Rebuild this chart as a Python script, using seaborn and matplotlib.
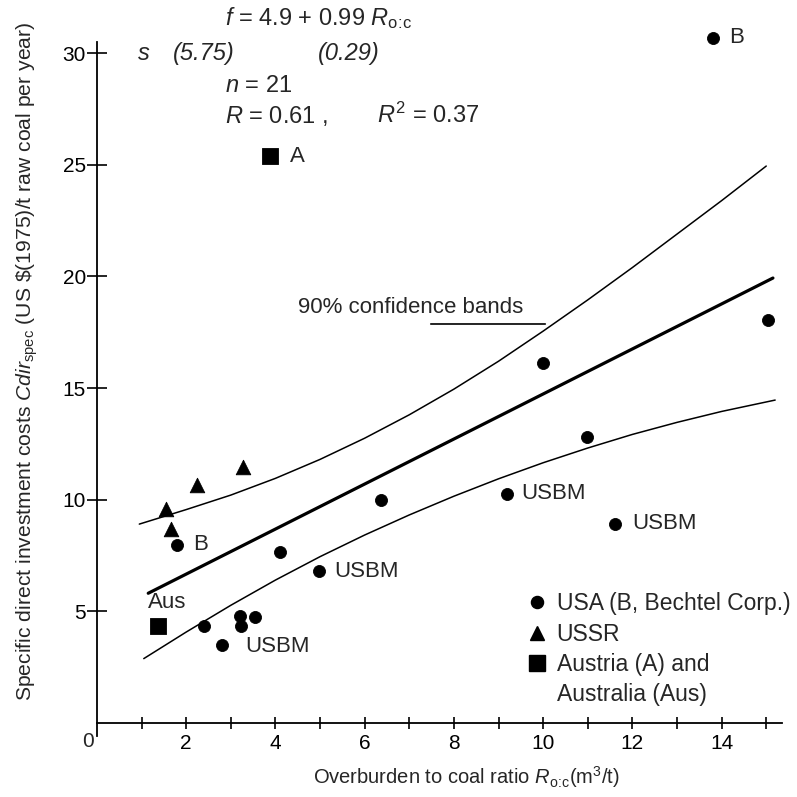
import numpy as np
import pandas as pd
import matplotlib
matplotlib.use('Agg')
import matplotlib.pyplot as plt
import seaborn as sns
from matplotlib import font_manager
from matplotlib.lines import Line2D
from matplotlib.ticker import FixedLocator

# values
usa_x = [13.81, 15.04, 10.0, 10.99, 9.19, 11.61, 6.37, 4.10, 4.98, 1.79, 2.40, 3.21, 3.23, 3.54, 2.80]
usa_y = [30.7, 18.05, 16.1, 12.8, 10.25, 8.9, 9.99, 7.66, 6.8, 7.97, 4.34, 4.79, 4.34, 4.75, 3.49]
ussr_x = [1.55, 1.66, 2.24, 3.27]
ussr_y = [9.58, 8.69, 10.66, 11.46]
aut_x = [3.88, 1.37]
aut_y = [25.4, 4.34]

# regression line f = 4.9 + 0.99 R (as drawn)
fit_x = [1.15, 15.15]
fit_y = [5.8, 19.93]

# 90% confidence bands
upper_x = [0.95, 2, 3, 4, 5, 6, 7, 8, 9, 10, 11, 12, 13, 14, 15]
upper_y = [8.9, 9.55, 10.2, 10.95, 11.8, 12.75, 13.8, 14.95, 16.2, 17.55, 18.95, 20.4, 21.9, 23.4, 24.95]
lower_x = [1.05, 2, 3, 4, 5, 6, 7, 8, 9, 10, 11, 12, 13, 14, 15.2]
lower_y = [2.87, 4.06, 5.26, 6.39, 7.44, 8.41, 9.31, 10.15, 10.93, 11.65, 12.31, 12.92, 13.46, 13.95, 14.46]

# point labels (text, x, y)
point_labels = [
    ("B", 14.17, 30.72),
    ("A", 4.33, 25.39),
    ("B", 2.15, 7.97),
    ("Aus", 1.14, 5.37),
    ("USBM", 3.32, 3.40),
    ("USBM", 5.31, 6.76),
    ("USBM", 9.51, 10.26),
    ("USBM", 12.0, 8.91),
]

legend_labels = ["USA (B, Bechtel Corp.)", "USSR", "Austria (A) and", "Australia (Aus)"]


def has_font(name):
    try:
        font_manager.findfont(name, fallback_to_default=False)
        return True
    except ValueError:
        return False


sns.set_style("ticks")
plt.rcParams['font.family'] = ['Liberation Sans', 'DejaVu Sans']
plt.rcParams['mathtext.fontset'] = 'custom'
plt.rcParams['mathtext.rm'] = 'Liberation Sans'
plt.rcParams['mathtext.it'] = 'Liberation Sans:italic'
plt.rcParams['mathtext.bf'] = 'Liberation Sans:bold'

narrow = 'Liberation Sans Narrow' if has_font('Liberation Sans Narrow') else 'Liberation Sans'
roc = r"R_{\mathrm{o}\!:\!\mathrm{c}}"

fig = plt.figure(figsize=(7.97, 7.97), dpi=100)
ax = fig.add_axes([0.1104, 0.0765, 0.8706, 0.8705])

df = pd.concat([
    pd.DataFrame({'x': usa_x, 'y': usa_y, 'group': 'USA'}),
    pd.DataFrame({'x': ussr_x, 'y': ussr_y, 'group': 'USSR'}),
    pd.DataFrame({'x': aut_x, 'y': aut_y, 'group': 'AUS'}),
])

styles = {'USA': ('o', 75), 'USSR': ('^', 110), 'AUS': ('s', 135)}
for g, (m, s) in styles.items():
    sub = df[df['group'] == g]
    sns.scatterplot(data=sub, x='x', y='y', marker=m, s=s, color='black',
                    edgecolor='black', linewidth=0.6, ax=ax, legend=False,
                    zorder=3, clip_on=False)

sns.lineplot(x=fit_x, y=fit_y, color='black', lw=2.3, ax=ax, estimator=None, sort=False)
sns.lineplot(x=upper_x, y=upper_y, color='black', lw=1.1, ax=ax, estimator=None, sort=False)
sns.lineplot(x=lower_x, y=lower_y, color='black', lw=1.1, ax=ax, estimator=None, sort=False)

# axes
ax.set_xlim(-0.2, 15.35)
ax.set_ylim(-0.6, 30.5)
ax.spines['left'].set_position(('data', 0))
ax.spines['bottom'].set_position(('data', 0))
ax.spines['bottom'].set_bounds(0, 15.35)
ax.spines['right'].set_visible(False)
ax.spines['top'].set_visible(False)
for sp in ('left', 'bottom'):
    ax.spines[sp].set_linewidth(1.3)
    ax.spines[sp].set_color('black')

ax.yaxis.set_major_locator(FixedLocator([5, 10, 15, 20, 25, 30]))
ax.xaxis.set_major_locator(FixedLocator([2, 4, 6, 8, 10, 12, 14]))
ax.xaxis.set_minor_locator(FixedLocator([1, 3, 5, 7, 9, 11, 13, 15]))
ax.tick_params(axis='y', direction='inout', length=14, width=1.2, pad=1,
               labelsize=15, colors='black')
ax.tick_params(axis='x', which='both', direction='inout', length=8, width=1.2, pad=4,
               colors='black', labelsize=15)
for lab in ax.get_xticklabels():
    lab.set_fontfamily(narrow)
ax.text(-0.2, -0.85, "0", fontsize=15, ha='center', va='center')

ax.set_xlabel(r"Overburden to coal ratio $" + roc + r"$(m$^{3}$/t)",
              fontfamily=narrow, fontsize=14.5)
ax.xaxis.set_label_coords(0.545, -0.04)
ax.set_ylabel(r"Specific direct investment costs $Cdir_{\mathrm{spec}}$ (US \$(1975)/t raw coal per year)",
              fontfamily=narrow, fontsize=15.2)
ax.yaxis.set_label_coords(-0.069, 0.54)

# point labels
for txt, tx, ty in point_labels:
    ax.text(tx, ty, txt, fontsize=16, ha='left', va='center')

# regression statistics
ax.text(2.87, 31.26, r"$f$ = 4.9 + 0.99 $" + roc + "$", fontsize=17, clip_on=False)
ax.text(0.90, 29.7, r"$s$", fontsize=17, clip_on=False)
ax.text(1.70, 29.7, r"(5.75)", fontsize=17, style='italic', clip_on=False)
ax.text(4.96, 29.7, r"(0.29)", fontsize=17, style='italic', clip_on=False)
ax.text(2.87, 28.26, r"$n$ = 21", fontsize=17, clip_on=False)
ax.text(2.87, 26.87, r"$R$ = 0.61 ,", fontsize=17, clip_on=False)
ax.text(6.28, 26.87, r"$R^{2}$ = 0.37", fontsize=17, clip_on=False)

# confidence band label
ax.text(4.51, 18.63, "90% confidence bands", fontsize=16, ha='left', va='center')
ax.annotate('', xy=(10.11, 17.87), xytext=(7.42, 17.87),
            arrowprops=dict(arrowstyle='-', lw=1.2, color='black'))

# legend
handles = [
    Line2D([], [], marker='o', ls='', color='black', markersize=8.7),
    Line2D([], [], marker='^', ls='', color='black', markersize=10.5),
    Line2D([], [], marker='s', ls='', color='black', markersize=11.5),
    Line2D([], [], marker='', ls=''),
]
ax.legend(handles, legend_labels, loc='upper left', bbox_to_anchor=(0.634, 0.207),
          frameon=False, fontsize=16.5, handlelength=0.8, handletextpad=0.45,
          labelspacing=0.32, borderaxespad=0, borderpad=0)

fig.savefig('out.png', dpi=100)
